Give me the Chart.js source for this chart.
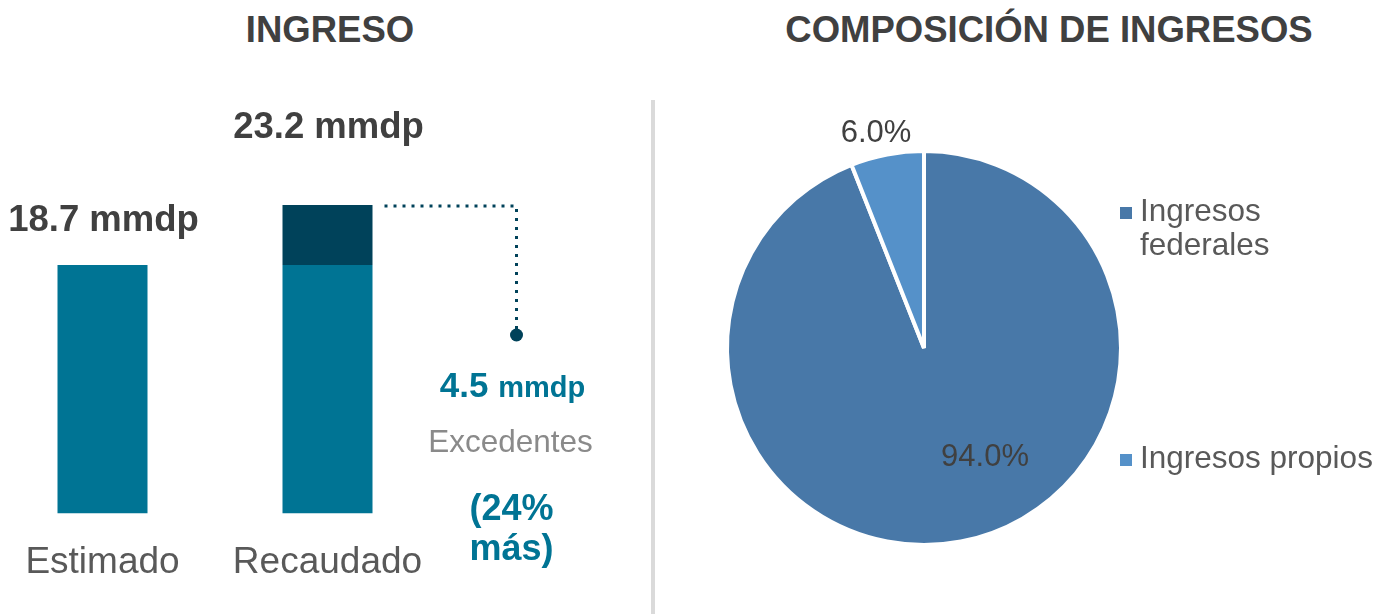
<!DOCTYPE html>
<html>
<head>
<meta charset="utf-8">
<script src="https://cdn.jsdelivr.net/npm/chart.js@4.4.1/dist/chart.umd.min.js"></script>
<style>
  html, body { margin: 0; padding: 0; background: #fff; }
  body { width: 1378px; height: 614px; position: relative; overflow: hidden;
         font-family: 'Liberation Sans', Arial, sans-serif; }
  .title { position: absolute; top: 9px; font-weight: bold; font-size: 36.5px; color: #404040;
           text-align: center; white-space: nowrap; }
  .divider { position: absolute; left: 651px; top: 100px; width: 4px; height: 514px; background: #dadada; }
  #barWrap { position: absolute; left: -10px; top: 0; width: 650px; height: 614px; }
  #pieWrap { position: absolute; left: 660px; top: 0; width: 718px; height: 614px; }
</style>
</head>
<body>
<div class="title" style="left:180px;width:300px;">INGRESO</div>
<div class="title" style="left:749px;width:600px;">COMPOSICIÓN DE INGRESOS</div>
<div class="divider"></div>
<div id="barWrap"><canvas id="chart-bar"></canvas></div>
<div id="pieWrap"><canvas id="chart-pie"></canvas></div>

<script>
// ─── DATA ────────────────────────────────────────────────────
const categories = ['Estimado', 'Recaudado'];
const baseValues = [18.7, 18.7];
const excessValues = [null, 4.5];
const unit = 'mmdp';
const excessLabel = 'Excedentes';
const excessSuffix = 'más';

const pieLabels = ['Ingresos federales', 'Ingresos propios'];
const pieValues = [94.0, 6.0];

// ─── STYLE ───────────────────────────────────────────────────
const TEAL = '#007494';
const DARK = '#00425a';
const PIE_COLORS = ['#4878a8', '#5591c9'];
const FONT = "'Liberation Sans', Arial, sans-serif";

Chart.defaults.font.family = FONT;
Chart.defaults.animation = false;

// totals above the stacks + excess annotation
const barLabels = {
  id: 'barLabels',
  afterDatasetsDraw(chart) {
    const ctx = chart.ctx;
    const gap = [44, 77];
    ctx.save();
    ctx.textAlign = 'center';
    ctx.textBaseline = 'middle';
    ctx.fillStyle = '#404040';
    ctx.font = 'bold 36.5px ' + FONT;
    categories.forEach((c, i) => {
      const top = excessValues[i] != null
        ? chart.getDatasetMeta(1).data[i]
        : chart.getDatasetMeta(0).data[i];
      const total = baseValues[i] + (excessValues[i] || 0);
      ctx.fillText(total.toFixed(1) + ' ' + unit, top.x + 1, top.y - gap[i]);
    });

    // dotted connector
    const el = chart.getDatasetMeta(1).data[1];
    const right = el.x + el.width / 2;
    const y0 = el.y + 1;
    const cx = right + 144;
    const dotY = 335;
    ctx.strokeStyle = DARK;
    ctx.lineWidth = 3;
    ctx.setLineDash([3, 6]);
    ctx.beginPath();
    ctx.moveTo(right + 12, y0);
    ctx.lineTo(cx, y0);
    ctx.lineTo(cx, dotY - 6);
    ctx.stroke();
    ctx.setLineDash([]);
    ctx.fillStyle = DARK;
    ctx.beginPath();
    ctx.arc(cx, dotY, 6.5, 0, Math.PI * 2);
    ctx.fill();

    // excess texts
    const ex = excessValues[1];
    const pct = Math.round(ex / baseValues[1] * 100);
    const numTxt = ex.toFixed(1);
    ctx.font = 'bold 35px ' + FONT;
    const w1 = ctx.measureText(numTxt + ' ').width;
    ctx.font = 'bold 29px ' + FONT;
    const w2 = ctx.measureText(unit).width;
    const sx = cx - 4 - (w1 + w2) / 2;
    ctx.textAlign = 'left';
    ctx.textBaseline = 'alphabetic';
    ctx.fillStyle = TEAL;
    ctx.font = 'bold 35px ' + FONT;
    ctx.fillText(numTxt + ' ', sx, 397);
    ctx.font = 'bold 29px ' + FONT;
    ctx.fillText(unit, sx + w1, 397);

    ctx.textAlign = 'center';
    ctx.textBaseline = 'middle';
    ctx.fillStyle = '#8a8a8a';
    ctx.font = '31.5px ' + FONT;
    ctx.fillText(excessLabel, cx - 6, 443);
    ctx.fillStyle = TEAL;
    ctx.font = 'bold 36px ' + FONT;
    ctx.fillText('(' + pct + '%', cx - 5, 510);
    ctx.fillText(excessSuffix + ')', cx - 5, 550);
    ctx.restore();
  }
};

new Chart(document.getElementById('chart-bar'), {
  type: 'bar',
  data: {
    labels: categories,
    datasets: [
      { label: 'Estimado', data: baseValues, backgroundColor: TEAL,
        barPercentage: 0.4, categoryPercentage: 1 },
      { label: 'Excedentes', data: excessValues, backgroundColor: DARK,
        barPercentage: 0.4, categoryPercentage: 1 }
    ]
  },
  options: {
    responsive: true,
    maintainAspectRatio: false,
    layout: { padding: { left: 0, right: 200, top: 88, bottom: 2 } },
    plugins: { legend: { display: false }, tooltip: { enabled: false } },
    scales: {
      x: {
        stacked: true,
        grid: { display: false, drawTicks: false },
        border: { display: false },
        ticks: { color: '#595959', font: { size: 37 }, padding: 27, maxRotation: 0 }
      },
      y: { stacked: true, display: false, min: 0, max: 32 }
    }
  },
  plugins: [barLabels]
});

// ─── PIE ─────────────────────────────────────────────────────
const pieExtras = {
  id: 'pieExtras',
  afterDatasetsDraw(chart) {
    const ctx = chart.ctx;
    const arc0 = chart.getDatasetMeta(0).data[0];
    const cx = arc0.x, cy = arc0.y;
    const sum = pieValues.reduce((a, b) => a + b, 0);
    const offsets = [[61, 109], [-48, -215]];
    ctx.save();
    ctx.textAlign = 'center';
    ctx.textBaseline = 'middle';
    ctx.fillStyle = '#404040';
    ctx.font = '31px ' + FONT;
    pieValues.forEach((v, i) => {
      ctx.fillText((v / sum * 100).toFixed(1) + '%', cx + offsets[i][0], cy + offsets[i][1]);
    });

    // legend
    const tx = 480, maxW = 236, lh = 34;
    const itemY = [212, 459];
    ctx.font = '31.5px ' + FONT;
    ctx.textAlign = 'left';
    pieLabels.forEach((lab, i) => {
      const lines = [];
      let cur = '';
      lab.split(' ').forEach(w => {
        const t = cur ? cur + ' ' + w : w;
        if (ctx.measureText(t).width > maxW && cur) { lines.push(cur); cur = w; }
        else cur = t;
      });
      lines.push(cur);
      ctx.fillStyle = PIE_COLORS[i];
      ctx.fillRect(tx - 20, itemY[i] - 5, 12, 12);
      ctx.fillStyle = '#595959';
      lines.forEach((ln, k) => ctx.fillText(ln, tx, itemY[i] + k * lh));
    });
    ctx.restore();
  }
};

new Chart(document.getElementById('chart-pie'), {
  type: 'pie',
  data: {
    labels: pieLabels,
    datasets: [{
      data: pieValues,
      backgroundColor: PIE_COLORS,
      borderColor: '#ffffff',
      borderWidth: 4
    }]
  },
  options: {
    responsive: true,
    maintainAspectRatio: false,
    layout: { padding: { left: 65, right: 255, top: 149, bottom: 67 } },
    plugins: { legend: { display: false }, tooltip: { enabled: false } }
  },
  plugins: [pieExtras]
});
</script>
</body>
</html>
